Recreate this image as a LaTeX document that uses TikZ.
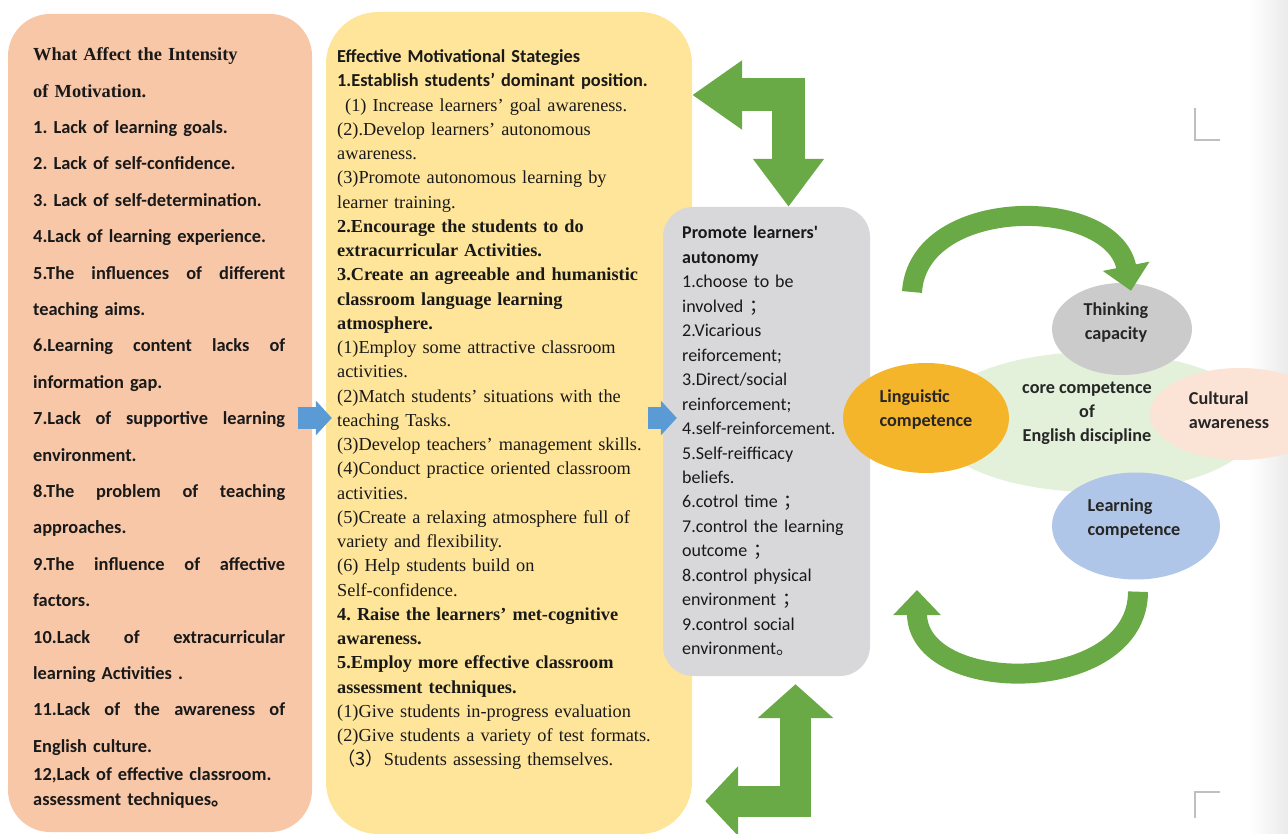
\documentclass[tikz,border=0pt]{standalone}
\usepackage{fontspec}
\setmainfont{Liberation Serif}
\newfontfamily\calfont{Carlito}
\newfontfamily\cjkfont{Noto Sans CJK SC}
\usepackage{tikz}
\usetikzlibrary{shapes.geometric,arrows.meta,calc}

\definecolor{peach}{HTML}{F7C7A8}
\definecolor{butter}{HTML}{FFE59A}
\definecolor{cloud}{HTML}{D8D8DA}
\definecolor{leaf}{HTML}{6AAA46}
\definecolor{sky}{HTML}{5B9BD5}
\definecolor{amber}{HTML}{F5B52A}
\definecolor{mist}{HTML}{CBCBCB}
\definecolor{pale}{HTML}{E3F0DA}
\definecolor{blush}{HTML}{FBE4D5}
\definecolor{steel}{HTML}{AFC6E8}

\frenchspacing
\newcommand{\spread}[1]{\makebox[252pt][s]{\spaceskip=0.25em plus 1fil\relax #1}}

\begin{document}
\begin{tikzpicture}[x=1pt,y=-1pt]
        \tikzstyle{panel} = [rectangle,inner sep=0pt]
        \tikzstyle{list} = [anchor=north west,inner sep=0pt,align=left,text=black!90]
        \tikzstyle{blob} = [ellipse,inner sep=0pt]
        \tikzstyle{blobtext} = [inner sep=0pt,text=black!85,font=\calfont\bfseries\fontsize{18.2}{24}\selectfont]
        \tikzstyle{bluearrow} = [sky,line width=22pt,-{Triangle[length=16pt,width=34pt]}]
        \tikzstyle{bentarrow} = [leaf,line width=33pt]
        \tikzstyle{arcarrow} = [leaf,line width=20pt,-{Triangle[length=25pt,width=46pt]}]

        \useasboundingbox (0,0) rectangle (1288,834);
        \clip (0,0) rectangle (1288,834);
        \shade[left color=white,right color=black!8] (1250,0) rectangle (1288,834);

        % columns
        \node[panel,fill=peach,minimum width=304pt,minimum height=818pt,rounded corners=42pt] (causes) at (160,423) {};
        \node[panel,fill=butter,minimum width=366pt,minimum height=822pt,rounded corners=52pt] (strategies) at (509,423) {};
        \node[panel,fill=cloud,minimum width=207pt,minimum height=469pt,rounded corners=30pt] (autonomy) at (766.5,441.5) {};

        \node[list,text width=252pt,font=\calfont\bfseries\fontsize{18.4}{36.4}\selectfont] (causestext) at (33,47.5) {%
          {\rmfamily What Affect the Intensity}\\
          {\rmfamily of Motivation.}\\
          1. Lack of learning goals.\\
          2. Lack of self-confidence.\\
          3. Lack of self-determination.\\
          4.Lack of learning experience.\\
          \spread{5.The influences of different}\\
          teaching aims.\\
          \spread{6.Learning content lacks of}\\
          information gap.\\
          \spread{7.Lack of supportive learning}\\
          environment.\\
          \spread{8.The problem of teaching}\\
          approaches.\\
          \spread{9.The influence of affective}\\
          factors.\\
          \spread{10.Lack of extracurricular}\\
          learning Activities .\\
          \spread{11.Lack of the awareness of}\\
          English culture.\\[-8.4pt]
          12,Lack of effective classroom.\\[-11.4pt]
          assessment techniques{\cjkfont 。}};

        \node[list,text width=350pt,font=\fontsize{18.3}{24.25}\selectfont] (strategytext) at (337,49.5) {%
          {\calfont\bfseries Effective Motivational Stategies}\\
          {\calfont\bfseries 1.Establish students’ dominant position.}\\
          \hspace*{8pt}(1) Increase learners' goal awareness.\\
          (2).Develop learners' autonomous\\
          awareness.\\
          (3)Promote autonomous learning by\\
          learner training.\\
          \textbf{2.Encourage the students to do}\\
          \textbf{extracurricular Activities.}\\
          \textbf{3.Create an agreeable and humanistic}\\
          \textbf{classroom language learning}\\
          \textbf{atmosphere.}\\
          (1)Employ some attractive classroom\\
          activities.\\
          (2)Match students’ situations with the\\
          teaching Tasks.\\
          (3)Develop teachers' management skills.\\
          (4)Conduct practice oriented classroom\\
          activities.\\
          (5)Create a relaxing atmosphere full of\\
          variety and flexibility.\\
          (6) Help students build on\\
          Self-confidence.\\
          \textbf{4. Raise the learners' met-cognitive}\\
          \textbf{awareness.}\\
          \textbf{5.Employ more effective classroom}\\
          \textbf{assessment techniques.}\\
          (1)Give students in-progress evaluation\\
          (2)Give students a variety of test formats.\\
          {\cjkfont （3）}Students assessing themselves.};

        \node[list,text width=185pt,font=\calfont\fontsize{18}{24.47}\selectfont] (autonomytext) at (682,226) {%
          \textbf{Promote learners'}\\
          \textbf{autonomy}\\
          1.choose to be\\
          involved {\cjkfont ；}\\
          2.Vicarious\\
          reiforcement;\\
          3.Direct/social\\
          reinforcement;\\
          4.self-reinforcement.\\
          5.Self-reifficacy\\
          beliefs.\\
          6.cotrol time {\cjkfont ；}\\
          7.control the learning\\
          outcome {\cjkfont ；}\\
          8.control physical\\
          environment {\cjkfont ；}\\
          9.control social\\
          environment{\cjkfont 。}};

        % competence ellipses
        \foreach \n/\x/\y/\w/\h/\c in {core/1095/422/330/140/pale, lingu/926/418/166/110/amber,
          think/1122/329/140/92/mist, culture/1240/414/180/92/blush, learn/1136/526/168/107/steel} {
          \node[blob,fill=\c,minimum width=\w pt,minimum height=\h pt] (\n) at (\x,\y) {};
        }
        \node[blobtext,align=center] (coretext) at (1087,413) {core competence\\of\\English discipline};
        \node[blobtext,align=left] (lingutext) at (926,410) {Linguistic\\competence};
        \node[blobtext,align=center] (thinktext) at (1116,323) {Thinking\\capacity};
        \node[blobtext,align=left] (culturetext) at (1229,410) {Cultural\\awareness};
        \node[blobtext,align=left] (learntext) at (1134,519) {Learning\\competence};

        \draw[black!25,line width=1.2pt] (1195,108) |- (1220,140);
        \draw[black!25,line width=1.2pt] (1220,792) -| (1195,818);

        \coordinate (midline) at (0,418);
        \coordinate (topbend) at (0,95);
        \coordinate (lowbend) at (0,801);
        \coordinate (highstart) at (912,292);
        \coordinate (lowend) at (917,590);

        \draw[bluearrow] ($(causes.east |- midline)+(-14,0)$) -- ($(strategies.west |- midline)+(6,0)$);
        \draw[bluearrow] ($(strategies.east |- midline)+(-44,0)$) -- ($(autonomy.west |- midline)+(14,0)$);

        \draw[bentarrow,{Triangle[length=50pt,width=66pt]}-{Triangle[length=48pt,width=68pt]}]
          (strategies.east |- topbend) -| ($(autonomy.north)+(22,0)$);
        \draw[bentarrow,line width=31pt,{Triangle[length=33pt,width=68pt]}-{Triangle[length=34pt,width=74pt]}]
          ($(strategies.east |- lowbend)+(13,0)$) -| ($(autonomy.south)+(29,8)$);

        \draw[arcarrow] (highstart) .. controls (918,195) and (1112,195) .. ($(think.north)+(9,8)$);
        \draw[arcarrow] ($(learn.south)+(2,12)$) .. controls (1138,697) and (917,697) .. (lowend);
\end{tikzpicture}
\end{document}
